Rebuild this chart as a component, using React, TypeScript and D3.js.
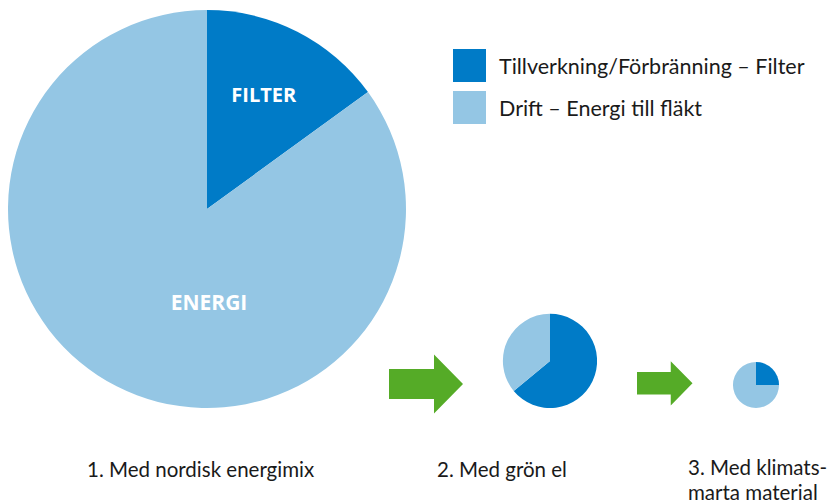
import { useRef, useEffect } from 'react';
import * as d3 from 'd3';

// scenario data
const scenarios = ['1. Med nordisk energimix', '2. Med grön el', '3. Med klimats-\nmarta material'];
const totals = [100, 5.6, 1.34];        // relative total climate impact (area of pie)
const filterShare = [15, 64, 25];       // % Tillverkning/Förbränning – Filter
const energyShare = [85, 36, 75];       // % Drift – Energi till fläkt
const seriesNames = ['Tillverkning/Förbränning – Filter', 'Drift – Energi till fläkt'];
const sliceLabels = ['FILTER', 'ENERGI'];

const COLORS = ['#007bc7', '#94c6e4'];
const GREEN = '#55ab27';
const FONT = 'Lato, "Open Sans", sans-serif';
const BOLD_FONT = '"Open Sans", Lato, sans-serif';

const W = 836;
const H = 504;

export default function App() {
  const svgRef = useRef<SVGSVGElement>(null);

  useEffect(() => {
    const svg = d3.select(svgRef.current);
    svg.selectAll('*').remove();

    const baseY = 408;                       // pies sit on a common baseline
    const centersX = [207, 550, 756];
    const r = d3.scaleSqrt().domain([0, 100]).range([0, 199]);
    const pie = d3.pie<number>().sort(null);
    const color = d3.scaleOrdinal<number, string>().domain([0, 1]).range(COLORS);

    scenarios.forEach((name, i) => {
      const R = r(totals[i]);
      const cx = centersX[i];
      const cy = baseY - R;
      const arc = d3.arc<d3.PieArcDatum<number>>().innerRadius(0).outerRadius(R);
      const g = svg.append('g').attr('transform', `translate(${cx},${cy})`);
      const arcs = pie([filterShare[i], energyShare[i]]);
      g.selectAll('path')
        .data(arcs)
        .join('path')
        .attr('d', arc)
        .attr('fill', (_d, j) => color(j));

      // slice labels only in the big pie
      if (i === 0) {
        const labelArc = d3.arc<d3.PieArcDatum<number>>().innerRadius(R * 0.64).outerRadius(R * 0.64);
        const [fx, fy] = labelArc.centroid(arcs[0]);
        g.append('text')
          .attr('x', fx - 1).attr('y', fy - 1)
          .attr('dy', '0.35em')
          .attr('text-anchor', 'middle')
          .attr('fill', '#fff')
          .attr('font-family', BOLD_FONT)
          .attr('font-weight', 700)
          .attr('font-size', 20)
          .text(sliceLabels[0]);
        g.append('text')
          .attr('x', 2).attr('y', R * 0.47)
          .attr('dy', '0.35em')
          .attr('text-anchor', 'middle')
          .attr('fill', '#fff')
          .attr('font-family', BOLD_FONT)
          .attr('font-weight', 700)
          .attr('font-size', 21)
          .text(sliceLabels[1]);
      }

      // scenario caption (two-line caption sits a touch higher so it fits)
      const lines = name.split('\n');
      const captionX = [87, 437, 688];
      const t = svg.append('text')
        .attr('x', captionX[i])
        .attr('y', lines.length > 1 ? 474.5 : 476.5)
        .attr('fill', '#1a1a1a')
        .attr('font-family', FONT)
        .attr('font-size', 20.5);
      lines.forEach((ln, k) => {
        t.append('tspan').attr('x', captionX[i]).attr('dy', k === 0 ? 0 : 25).text(ln);
      });
    });

    // green arrows between scenarios
    const arrows = [
      { x: 389, y: 384, s: 1 },
      { x: 637, y: 383.3, s: 0.75 },
    ];
    arrows.forEach(a => {
      const p = d3.path();
      const s = a.s;
      p.moveTo(0, -15 * s);
      p.lineTo(45 * s, -15 * s);
      p.lineTo(45 * s, -29.5 * s);
      p.lineTo(74 * s, 0);
      p.lineTo(45 * s, 29.5 * s);
      p.lineTo(45 * s, 15 * s);
      p.lineTo(0, 15 * s);
      p.closePath();
      svg.append('path')
        .attr('transform', `translate(${a.x},${a.y})`)
        .attr('d', p.toString())
        .attr('fill', GREEN);
    });

    // legend
    const legend = svg.append('g').attr('transform', 'translate(453,49)');
    seriesNames.forEach((n, i) => {
      const lg = legend.append('g').attr('transform', `translate(0,${i * 42})`);
      lg.append('rect')
        .attr('width', 33).attr('height', 33)
        .attr('fill', COLORS[i]);
      lg.append('text')
        .attr('x', 46).attr('y', 25)
        .attr('fill', '#1a1a1a')
        .attr('font-family', FONT)
        .attr('font-size', 21.5)
        .text(n);
    });
  }, []);

  return (
    <svg
      ref={svgRef}
      width={W}
      height={H}
      style={{ position: 'absolute', left: 0, top: 0, background: '#fff' }}
    />
  );
}
